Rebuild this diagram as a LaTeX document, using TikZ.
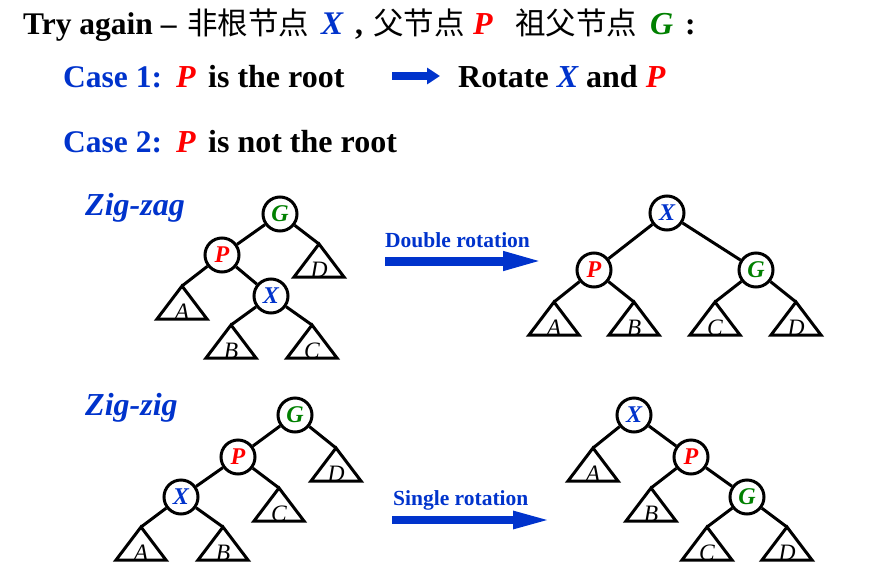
\documentclass[tikz,border=0pt]{standalone}
\usepackage{fontspec}
\setmainfont{Liberation Serif}
\newfontfamily\cjk{Noto Sans CJK SC}
\usetikzlibrary{arrows.meta}
\definecolor{xblue}{RGB}{0,51,204}
\definecolor{pred}{RGB}{255,0,0}
\definecolor{ggreen}{RGB}{0,128,0}
\newcommand\fs[1]{\fontsize{#1}{#1}\selectfont}
\newcommand\subtree[4]{%
  \coordinate (#1) at (#2,#3);
  \draw[tri] (#1) -- ++(-25,33) -- ++(50,0) -- cycle;
  \path (#1) ++(0,33.5) node[leaf] (#1l) {#4};
}
\begin{document}
\begin{tikzpicture}[x=1pt,y=-1pt,
  txt/.style={anchor=base west, inner sep=0pt, font=\bfseries\fs{31.5}},
  cjkt/.style={anchor=base west, inner sep=0pt, font=\cjk\fs{30.5}},
  sub/.style={anchor=base west, inner sep=0pt, text=xblue, font=\bfseries\fs{21.5}},
  zz/.style={anchor=base west, inner sep=0pt, text=xblue, font=\bfseries\itshape\fs{32}},
  tn/.style={circle, draw, line width=3pt, minimum size=34pt, inner sep=0pt, fill=white, font=\bfseries\itshape\fs{24}},
  edge/.style={line width=3pt},
  tri/.style={line width=3pt, line join=miter},
  leaf/.style={anchor=base, inner sep=0pt, font=\itshape\fs{23.5}},
  bigarrow/.style={draw=xblue, line width=#1},
]
\useasboundingbox (0,0) rectangle (871,579);
% title
\node[txt] (t1) at (23,34) {Try again --};
\node[cjkt] (t2) at (187,34) {非根节点};
\node[txt, text=xblue, font=\bfseries\itshape\fs{33}] (t3) at (321,34) {X};
\node[txt] (t4) at (355,34) {,};
\node[cjkt] (t5) at (373,34) {父节点};
\node[txt, text=pred, font=\bfseries\itshape\fs{32}] (t6) at (473,34) {P};
\node[cjkt] (t7) at (515,34) {祖父节点};
\node[txt, text=ggreen, font=\bfseries\itshape\fs{32}] (t8) at (650,34) {G};
\node[txt] (t9) at (685,34) {:};
% case 1
\node[txt, text=xblue] (c1) at (63,87) {Case 1:};
\node[txt, text=pred, font=\bfseries\itshape\fs{32}] (c1p) at (176,87) {P};
\node[txt, font=\bfseries\fs{32}] (c1t) at (208,87) {is the root};
\coordinate (a1s) at (392,76);
\coordinate (a1e) at (440,76);
\draw[bigarrow=8pt, -{Triangle[length=13pt,width=16pt]}] (a1s) -- (a1e);
\node[txt, font=\bfseries\fs{32}] (r1) at (458,87) {Rotate \textcolor{xblue}{\itshape X} and \textcolor{pred}{\itshape P}};
% case 2
\node[txt, text=xblue] (c2) at (63,152) {Case 2:};
\node[txt, text=pred, font=\bfseries\itshape\fs{32}] (c2p) at (176,152) {P};
\node[txt, font=\bfseries\fs{32}] (c2t) at (208,152) {is not the root};
% zig-zag
\node[zz] (zzag) at (85,215) {Zig-zag};
\node[tn, text=ggreen] (G1) at (280,214) {G};
\node[tn, text=pred] (P1) at (222,255) {P};
\node[tn, text=xblue] (X1) at (271,296) {X};
\subtree{A1}{182}{286}{A}
\subtree{B1}{231}{325}{B}
\subtree{C1}{312}{325}{C}
\subtree{D1}{319}{244}{D}
\draw[edge] (G1) -- (P1);
\draw[edge] (G1) -- (D1);
\draw[edge] (P1) -- (A1);
\draw[edge] (P1) -- (X1);
\draw[edge] (X1) -- (B1);
\draw[edge] (X1) -- (C1);
% double rotation
\node[sub] (dr) at (385,247) {Double rotation};
\coordinate (a2s) at (385,261);
\coordinate (a2e) at (545,261);
\draw[bigarrow=9pt, -{Triangle[length=42pt,width=17pt]}] (a2s) -- (a2e);
\node[tn, text=xblue] (X2) at (667,213) {X};
\node[tn, text=pred] (P2) at (594,270) {P};
\node[tn, text=ggreen] (G2) at (756,270) {G};
\subtree{A2}{554}{302}{A}
\subtree{B2}{634}{302}{B}
\subtree{C2}{715}{302}{C}
\subtree{D2}{796}{302}{D}
\draw[edge] (X2) -- (P2);
\draw[edge] (X2) -- (G2);
\draw[edge] (P2) -- (A2);
\draw[edge] (P2) -- (B2);
\draw[edge] (G2) -- (C2);
\draw[edge] (G2) -- (D2);
% zig-zig
\node[zz] (zzig) at (85,415) {Zig-zig};
\node[tn, text=ggreen] (G3) at (295,415) {G};
\node[tn, text=pred] (P3) at (238,457) {P};
\node[tn, text=xblue] (X3) at (181,497) {X};
\subtree{D3}{336}{448}{D}
\subtree{C3}{279}{488}{C}
\subtree{A3}{141}{527}{A}
\subtree{B3}{223}{527}{B}
\draw[edge] (G3) -- (P3);
\draw[edge] (G3) -- (D3);
\draw[edge] (P3) -- (X3);
\draw[edge] (P3) -- (C3);
\draw[edge] (X3) -- (A3);
\draw[edge] (X3) -- (B3);
% single rotation
\node[sub] (sr) at (393,505) {Single rotation};
\coordinate (a3s) at (392,520);
\coordinate (a3e) at (552,520);
\draw[bigarrow=8pt, -{Triangle[length=39pt,width=16pt]}] (a3s) -- (a3e);
\node[tn, text=xblue] (X4) at (634,415) {X};
\node[tn, text=pred] (P4) at (691,457) {P};
\node[tn, text=ggreen] (G4) at (747,497) {G};
\subtree{A4}{593}{448}{A}
\subtree{B4}{651}{488}{B}
\subtree{C4}{707}{527}{C}
\subtree{D4}{787}{527}{D}
\draw[edge] (X4) -- (A4);
\draw[edge] (X4) -- (P4);
\draw[edge] (P4) -- (B4);
\draw[edge] (P4) -- (G4);
\draw[edge] (G4) -- (C4);
\draw[edge] (G4) -- (D4);
\end{tikzpicture}
\end{document}
